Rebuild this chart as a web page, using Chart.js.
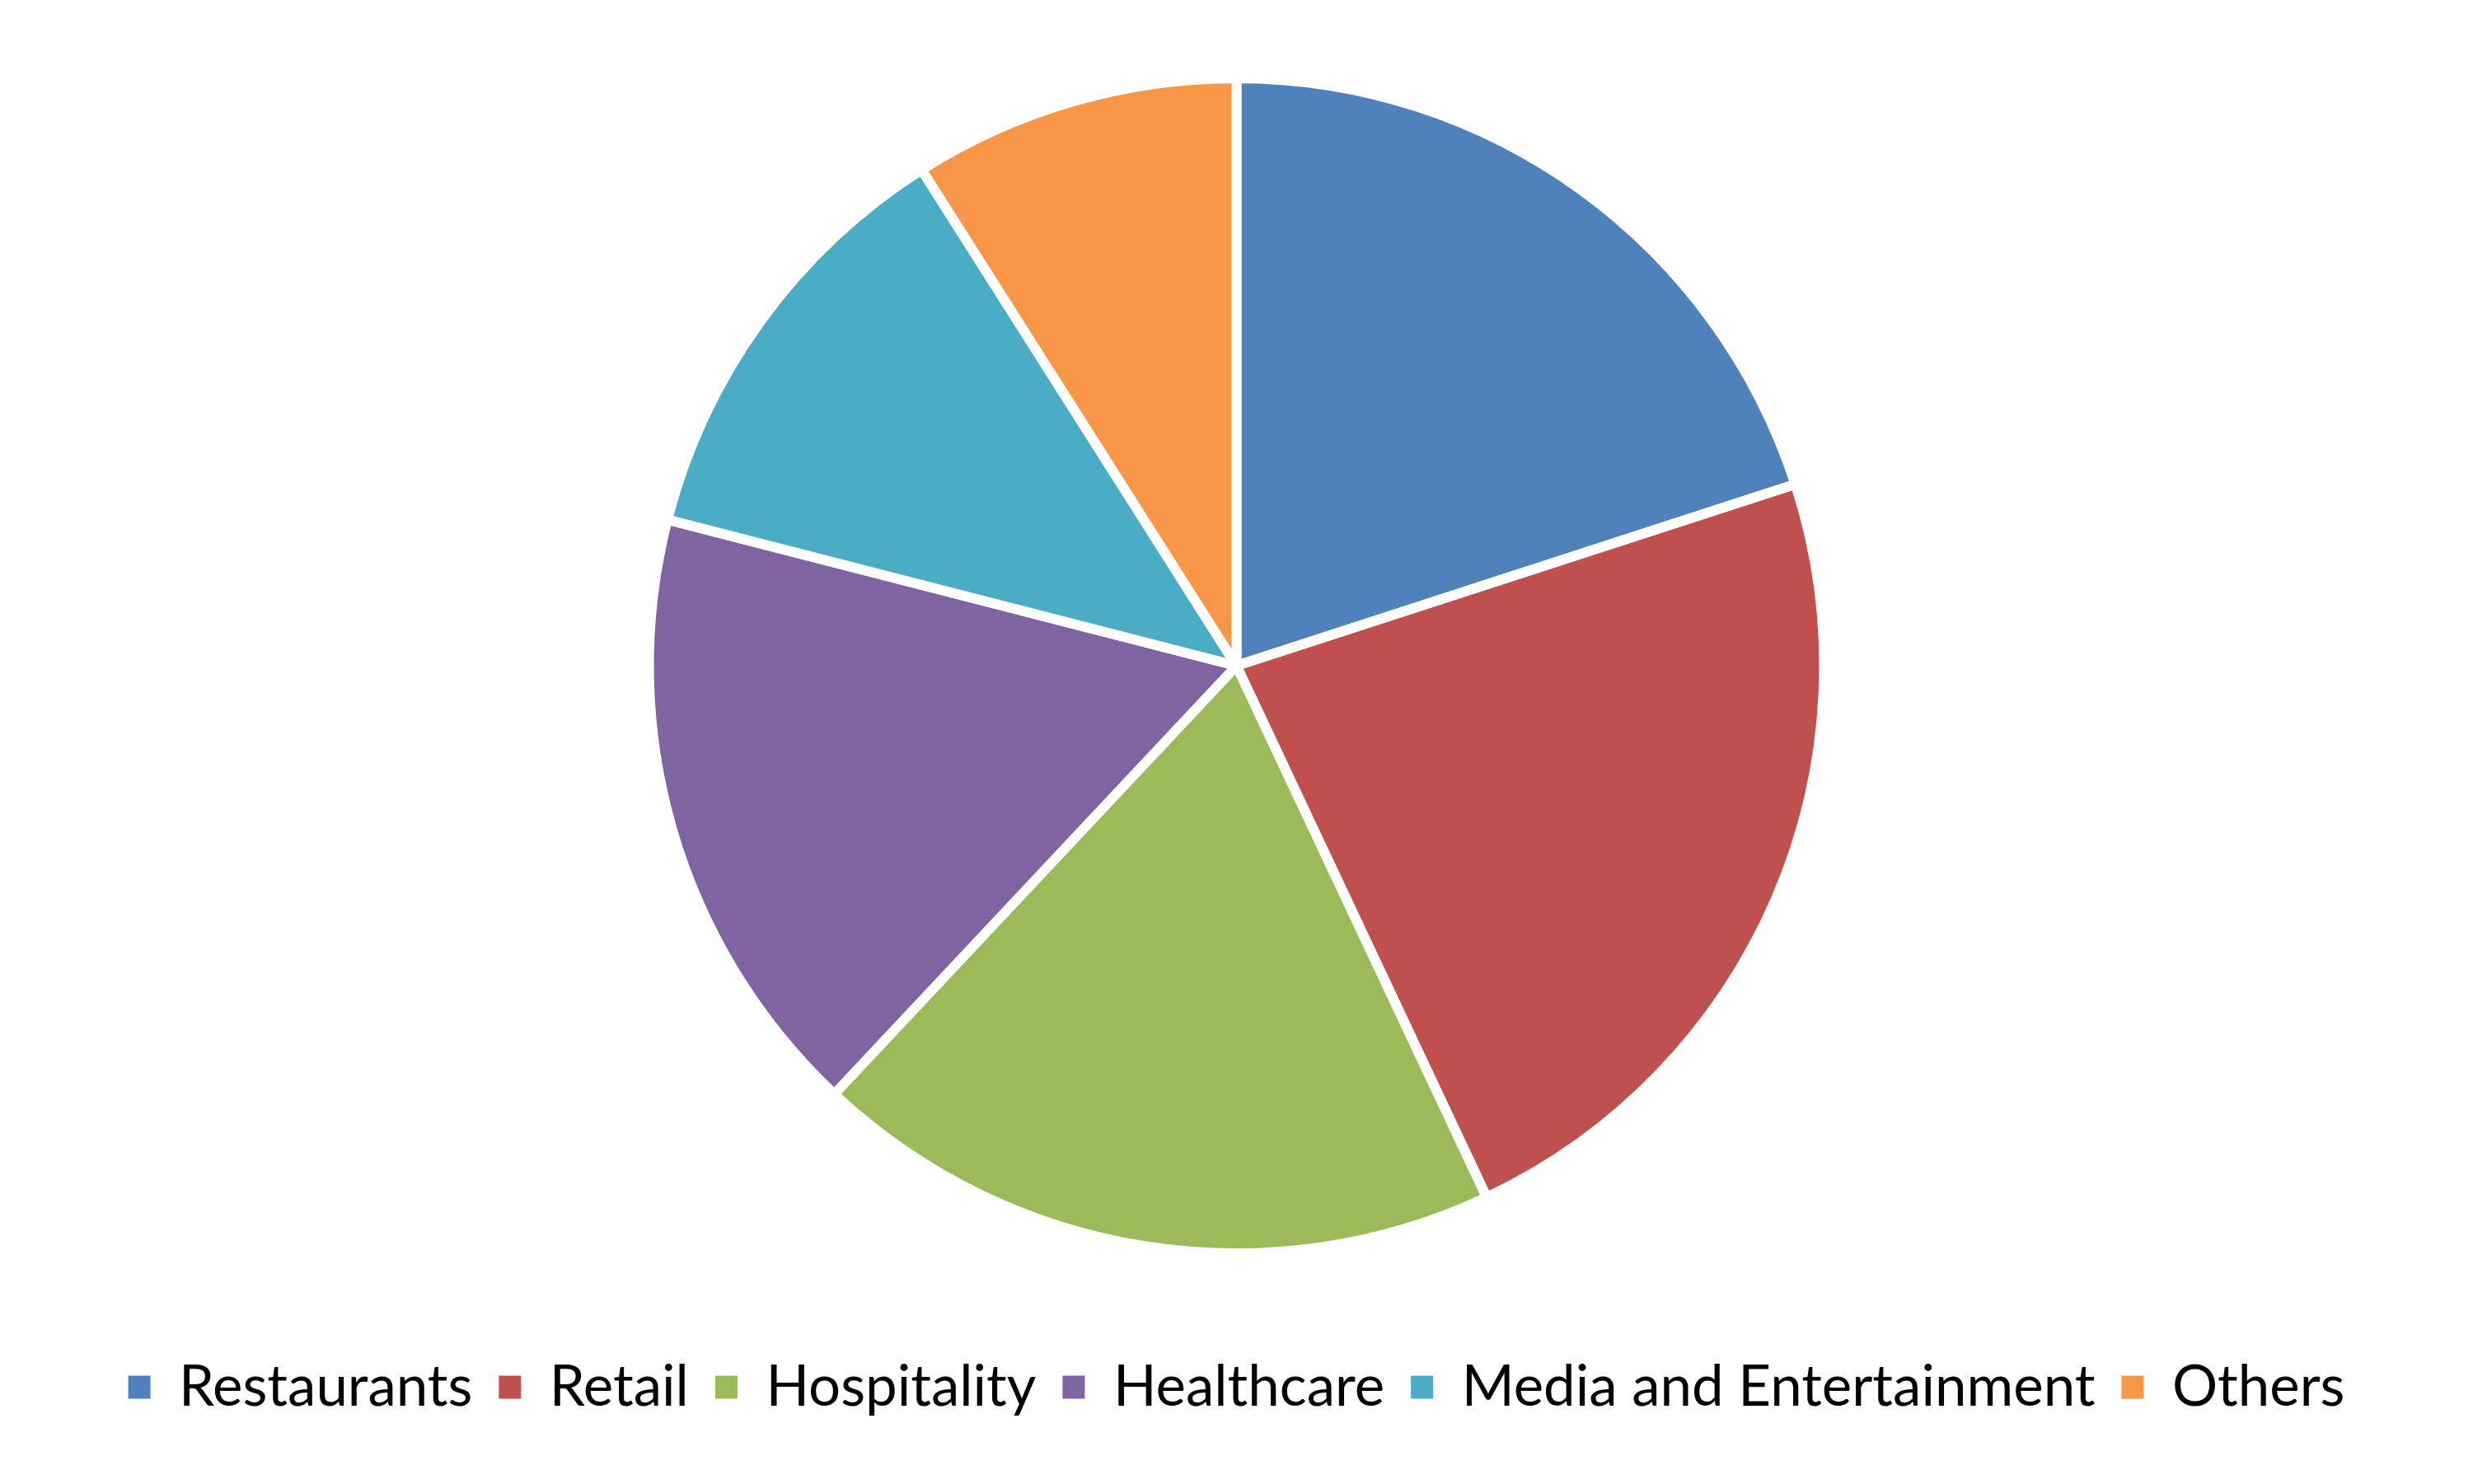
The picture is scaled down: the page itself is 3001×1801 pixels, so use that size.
<!DOCTYPE html>
<html>
<head>
<meta charset="utf-8">
<title>Pie</title>
<script src="https://cdn.jsdelivr.net/npm/chart.js@4.4.0/dist/chart.umd.min.js"></script>
<style>
    html, body { margin: 0; padding: 0; background: #ffffff; }
    #wrap { width: 3001px; height: 1801px; }
</style>
</head>
<body>
<div id="wrap">
    <canvas id="myChart" width="3001" height="1801"></canvas>
</div>
<script>
    // 数据
    var categories = ['Restaurants', 'Retail', 'Hospitality', 'Healthcare', 'Media and Entertainment', 'Others'];
    var shareValues = [20, 23, 19, 17, 12, 9];
    var sliceColors = ['#4F81BD', '#C0504D', '#9BBB59', '#8064A2', '#4BACC6', '#F79646'];

    // 图例方块不要白边
    var defaultLabels = Chart.overrides.pie.plugins.legend.labels.generateLabels;

    var ctx = document.getElementById('myChart').getContext('2d');
    var myChart = new Chart(ctx, {
        type: 'pie',
        data: {
            labels: categories,
            datasets: [{
                data: shareValues,
                backgroundColor: sliceColors,
                borderColor: '#ffffff',
                borderWidth: 12,
                radius: 713
            }]
        },
        options: {
            responsive: false,
            animation: false,
            devicePixelRatio: 1,
            layout: {
                padding: { top: 32, bottom: 73, left: 0, right: 0 }
            },
            plugins: {
                tooltip: { enabled: false },
                legend: {
                    position: 'bottom',
                    title: {
                        display: true,
                        text: '',
                        font: { size: 20 },
                        padding: { top: 9, bottom: 0 }
                    },
                    labels: {
                        color: '#000000',
                        boxWidth: 27,
                        boxHeight: 28,
                        padding: 32,
                        font: { family: 'Lato', size: 69 },
                        generateLabels: function (chart) {
                            return defaultLabels(chart).map(function (item) {
                                item.lineWidth = 0;
                                return item;
                            });
                        }
                    }
                }
            }
        }
    });
</script>
</body>
</html>
